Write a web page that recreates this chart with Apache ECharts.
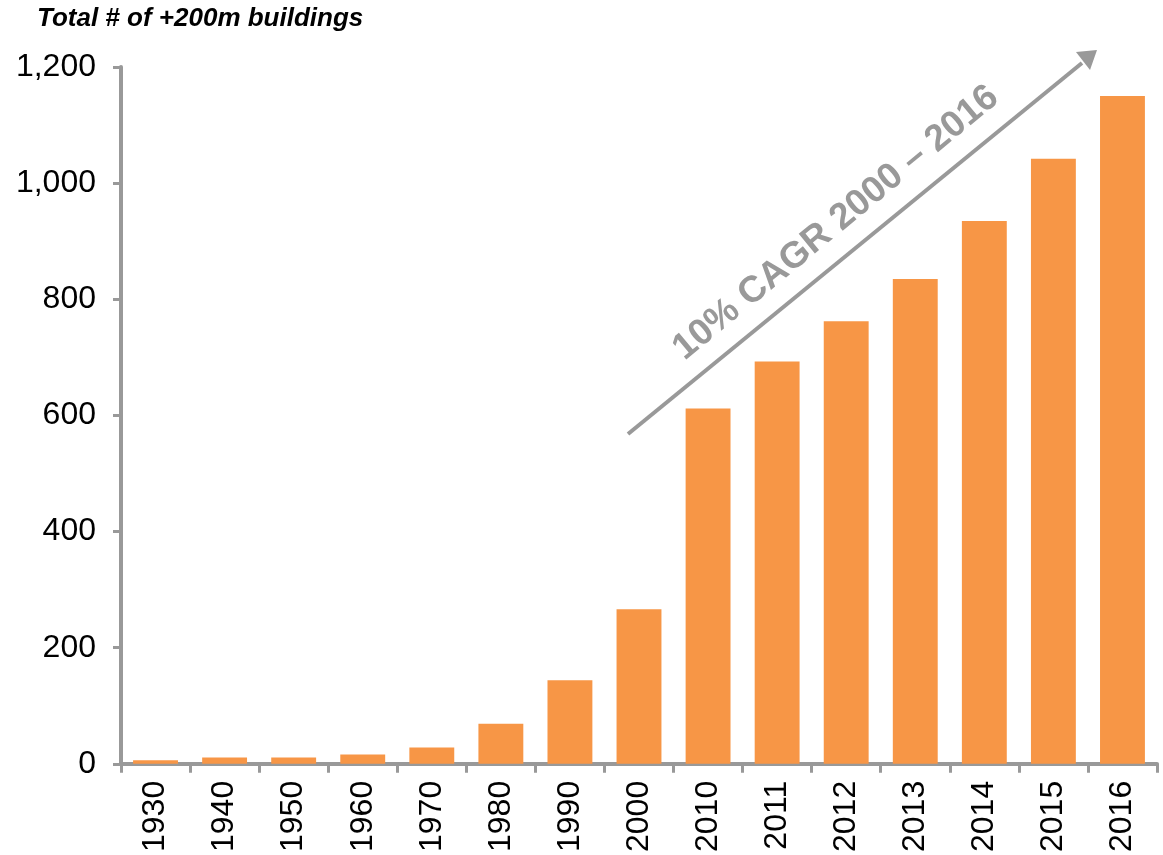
<!DOCTYPE html>
<html>
<head>
<meta charset="utf-8">
<style>
  html, body { margin: 0; padding: 0; background: #fff; }
  #chart { width: 1163px; height: 855px; }
</style>
<script src="https://cdn.jsdelivr.net/npm/echarts@6/dist/echarts.min.js"></script>
</head>
<body>
<div id="chart"></div>
<script>
const years = ["1930", "1940", "1950", "1960", "1970", "1980", "1990", "2000",
  "2010", "2011", "2012", "2013", "2014", "2015", "2016"];
const buildings = [6, 11, 11, 16, 28, 69, 144, 266, 612, 693, 762, 835, 935, 1042, 1150];
const yTicks = [0, 200, 400, 600, 800, 1000, 1200];

const gray = "#999999";
const chart = echarts.init(document.getElementById("chart"));

chart.setOption({
  animation: false,
  textStyle: { fontFamily: "Liberation Sans, Arial, sans-serif" },
  title: {
    text: "Total # of +200m buildings",
    left: 37,
    top: 6,
    padding: 0,
    textStyle: { fontSize: 26, fontWeight: "bold", fontStyle: "italic", color: "#000" }
  },
  grid: { left: 121, right: 6, top: 67, bottom: 88, containLabel: false },
  xAxis: {
    type: "category",
    data: years,
    axisLine: { lineStyle: { color: gray, width: 4 } },
    axisTick: { show: true, length: 9, lineStyle: { color: gray, width: 3 } },
    axisLabel: { rotate: 90, fontSize: 32, color: "#000", margin: 17 }
  },
  yAxis: {
    type: "value",
    min: yTicks[0],
    max: yTicks[yTicks.length - 1],
    interval: 200,
    splitLine: { show: false },
    axisLine: { show: true, lineStyle: { color: gray, width: 4 } },
    axisTick: { show: true, length: 8, lineStyle: { color: gray, width: 3 } },
    axisLabel: {
      fontSize: 32,
      color: "#000",
      margin: 25,
      formatter: v => v.toLocaleString("en-US")
    }
  },
  series: [{
    type: "bar",
    data: buildings,
    barWidth: "65%",
    itemStyle: { color: "#F79646" }
  }],
  graphic: [
    {
      type: "line",
      shape: { x1: 628, y1: 434, x2: 1082, y2: 63 },
      style: { stroke: gray, lineWidth: 4 }
    },
    {
      type: "polygon",
      shape: { points: [[1097, 50], [1076, 52], [1090, 70]] },
      style: { fill: gray }
    },
    {
      type: "text",
      x: 836,
      y: 223,
      rotation: 39.5 * Math.PI / 180,
      style: {
        text: "10% CAGR 2000 \u2013 2016",
        fill: gray,
        font: "bold 37px Liberation Sans, Arial, sans-serif",
        align: "center",
        verticalAlign: "middle"
      }
    }
  ]
});
</script>
</body>
</html>
